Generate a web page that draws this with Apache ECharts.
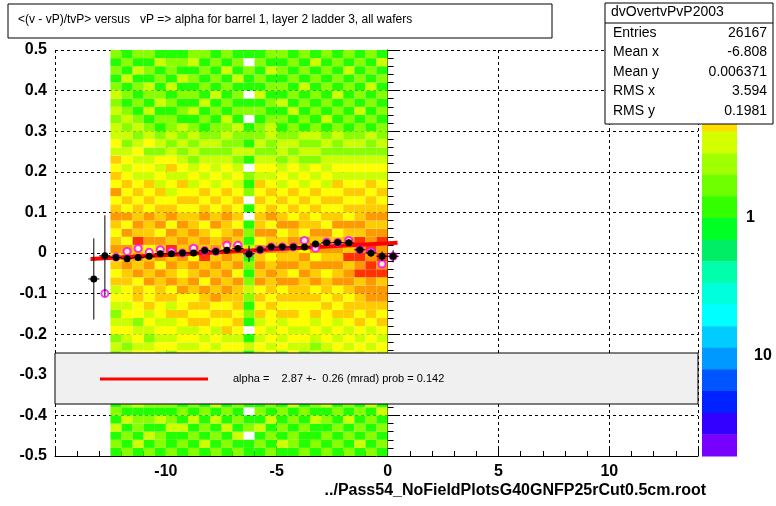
<!DOCTYPE html>
<html>
<head>
<meta charset="utf-8">
<script src="https://cdn.jsdelivr.net/npm/echarts@6/dist/echarts.min.js"></script>
<style>body{margin:0;background:#fff}#main{width:776px;height:506px}</style>
</head>
<body>
<div id="main"></div>
<script>
// profile bin centers (x), mean (black) and second profile (magenta)
var profX = [-13.25, -12.75, -12.25, -11.75, -11.25, -10.75, -10.25, -9.75, -9.25, -8.75, -8.25, -7.75, -7.25, -6.75,
  -6.25, -5.75, -5.25, -4.75, -4.25, -3.75, -3.25, -2.75, -2.25, -1.75, -1.25, -0.75, -0.25, 0.25];
var profY = [-0.064, -0.007, -0.011, -0.014, -0.011, -0.008, -0.002, -0.002, 0.000, 0.000, 0.006, 0.004, 0.007, 0.011,
  -0.002, 0.008, 0.015, 0.015, 0.015, 0.015, 0.022, 0.025, 0.026, 0.025, 0.008, 0.000, -0.008, -0.008];
var profErr = [0.1, 0.1, 0.008, 0.008, 0.008, 0.007, 0.007, 0.007, 0.007, 0.007, 0.007, 0.007, 0.008, 0.008,
  0.02, 0.008, 0.007, 0.007, 0.007, 0.007, 0.008, 0.008, 0.008, 0.008, 0.01, 0.01, 0.012, 0.015];
var prof2X = profX.slice(1);
var prof2Y = [-0.1, -0.01, 0.004, 0.011, 0.002, 0.008, 0.004, 0.000, 0.012, 0.006, 0.004, 0.019, 0.019,
  -0.002, 0.008, 0.015, 0.015, 0.015, 0.031, 0.012, 0.027, 0.026, 0.031, 0.008, 0.004, -0.027, -0.008];
// linear fit: y = p0 + p1 * x
var fitX = [-13.4, 0.45];
var fitP0 = 0.0237, fitP1 = 0.00287;
// 2D histogram: 25 columns of 0.5 from -12.5, 50 rows of 0.02 from -0.5 (bottom first); level per cell
var histX0 = -12.5, histDX = 0.5, histY0 = -0.5, histDY = 0.02;
var histCols = [
  "1213121322 1323243234 3545465456 5464545343 3232321212",
  "2121312123 2432343434 4556564646 4545434323 2321213121",
  "1312213213 3243432445 5465657565 5454343432 3212121312",
  "2131212231 2343234354 4656546556 4545343243 2131231212",
  "1221312132 3234343445 5564656465 5453434232 1213212131",
  "2113212213 2324343535 4656575646 5434354323 2212131221",
  "1213121322 3243434544 6545656565 4545343232 3121213121",
  "2121312123 2343435454 5656465655 4543432323 2131212132",
  "1312121232 3234345455 6465756546 5454343232 1213121212",
  "2121313123 2343434546 5656565465 4543433232 2121312121",
  "1213121232 3234354545 6565646556 5454343223 2312121312",
  "2131212123 2434345455 5646565645 4543432322 3121213121",
  "1102101210 1213101212 3212131210 1021201312 1021011201",
  "1213121232 3234343545 4656564655 4545343232 2121312121",
  "2121312123 2343434454 5565465646 5454343223 3212121312",
  "1312121231 2324343545 4656565465 4543432332 1213121212",
  "1221213121 2343434545 5646556564 5454343232 2131212121",
  "2112121312 1323434445 5565646455 4543432323 1212131212",
  "1211312121 2232343545 4656465654 5454342323 2121212131",
  "2121213121 2323434454 5546565645 4543433232 1312121212",
  "1212121321 3234343545 4656565465 4545343223 2121312121",
  "2121312112 2343434554 5665756564 5454343232 1212121312",
  "1312121232 3234345455 6576767565 5454343232 2131212121",
  "2121213121 2343434556 6677676656 5545343223 1212131212",
  "1212131212 3234345456 6576767656 5454343232 2121212131"
];
var levelColors = ['#ffffff', '#22ff00', '#88ff00', '#ccff00', '#ffff00', '#ffcc00', '#ff9900', '#ff3300'];
var paletteColors = ['#ff2200', '#ff5500', '#ff9900', '#ffdd00', '#d4ff00', '#a0ff00', '#70ff00', '#33ff00', '#00ff22',
  '#00ee66', '#00ffaa', '#00ffdd', '#00ffff', '#00ccff', '#0099ff', '#0055ff', '#0022ff', '#3300ff', '#7700ff'];
var statNames = ['Entries', 'Mean x', 'Mean y', 'RMS x', 'RMS y'];
var statValues = ['26167', '-6.808', '0.006371', '3.594', '0.1981'];

var cells = [];
histCols.forEach(function (s, i) {
  s.replace(/ /g, '').split('').forEach(function (c, j) {
    var lv = +c;
    if (lv > 0) cells.push([histX0 + i * histDX, histY0 + j * histDY, lv]);
  });
});

var chart = echarts.init(document.getElementById('main'));
var lab = {color: '#000', fontFamily: 'Liberation Sans, Arial', fontWeight: 'bold', fontSize: 16};

var palette = paletteColors.map(function (c, i) {
  var h = 411 / paletteColors.length;
  return {type: 'rect', shape: {x: 702, y: 45 + i * h, width: 35, height: h + 0.5}, style: {fill: c}, z: 1};
});
var stats = [];
statNames.forEach(function (n, i) {
  stats.push({type: 'text', x: 613, y: 26 + i * 19.5, style: {text: n, font: '14px Liberation Sans', fill: '#000'}, z: 11});
  stats.push({type: 'text', x: 767, y: 26 + i * 19.5, style: {text: statValues[i], font: '14px Liberation Sans', fill: '#000', align: 'right'}, z: 11});
});

var option = {
  animation: false,
  grid: {left: 55, right: 78, top: 50, bottom: 50},
  xAxis: {
    type: 'value', min: -15, max: 14, interval: 5,
    axisLine: {onZero: false, lineStyle: {color: '#000'}},
    axisTick: {inside: true, length: 10, lineStyle: {color: '#000'}},
    minorTick: {show: true, splitNumber: 5, length: 5, lineStyle: {color: '#000'}},
    splitLine: {show: true, lineStyle: {color: '#000', type: [3, 3]}},
    axisLabel: Object.assign({margin: 8, formatter: function (v) { return (v === -15 || v === 14) ? '' : String(v); }}, lab)
  },
  yAxis: {
    type: 'value', min: -0.5, max: 0.5, interval: 0.1,
    axisLine: {lineStyle: {color: '#000'}},
    axisTick: {inside: true, length: 12, lineStyle: {color: '#000'}},
    minorTick: {show: true, splitNumber: 5, length: 6, lineStyle: {color: '#000'}},
    splitLine: {show: true, lineStyle: {color: '#000', type: [3, 3]}},
    axisLabel: Object.assign({margin: 8, formatter: function (v) { var r = Math.round(v * 10) / 10; return r === 0 ? '0' : r.toFixed(1); }}, lab)
  },
  series: [
    {
      type: 'custom', data: cells, z: 1,
      renderItem: function (params, api) {
        var x = api.value(0), y = api.value(1);
        var p0 = api.coord([x, y + histDY]);
        var p1 = api.coord([x + histDX, y]);
        return {type: 'rect', shape: {x: p0[0], y: p0[1], width: p1[0] - p0[0], height: p1[1] - p0[1]},
          style: {fill: levelColors[api.value(2)]}};
      }
    },
    {
      type: 'line', data: fitX.map(function (x) { return [x, fitP0 + fitP1 * x]; }), z: 3,
      symbol: 'none', lineStyle: {color: '#ff0000', width: 4}
    },
    {
      type: 'scatter', data: prof2X.map(function (x, i) { return [x, prof2Y[i]]; }), z: 4,
      symbol: 'emptyCircle', symbolSize: 7, itemStyle: {color: '#ff00ff', borderColor: '#ff00ff', borderWidth: 1}
    },
    {
      type: 'custom', data: profX.map(function (x, i) { return [x, profY[i], profErr[i]]; }), z: 5,
      renderItem: function (params, api) {
        var x = api.value(0), y = api.value(1), e = api.value(2);
        var c = api.coord([x, y]);
        var t = api.coord([x, y + e]), b = api.coord([x, y - e]);
        var l = api.coord([x - 0.25, y]), r = api.coord([x + 0.25, y]);
        return {type: 'group', children: [
          {type: 'line', shape: {x1: c[0], y1: t[1], x2: c[0], y2: b[1]}, style: {stroke: '#000', lineWidth: 1}},
          {type: 'line', shape: {x1: l[0], y1: c[1], x2: r[0], y2: c[1]}, style: {stroke: '#000', lineWidth: 1}},
          {type: 'circle', shape: {cx: c[0], cy: c[1], r: 3.5}, style: {fill: '#000'}}
        ]};
      }
    }
  ],
  graphic: palette.concat(stats, [
    {type: 'text', left: 744, top: 76, style: {text: '10', font: 'bold 16px Liberation Sans', fill: '#000'}, z: 1},
    {type: 'text', left: 746, top: 210, style: {text: '1', font: 'bold 16px Liberation Sans', fill: '#000'}},
    {type: 'text', left: 754, top: 348, style: {text: '10', font: 'bold 16px Liberation Sans', fill: '#000'}},
    // fit legend box
    {type: 'rect', shape: {x: 55, y: 353, width: 643, height: 51}, style: {fill: '#f0f0f0', stroke: '#000', lineWidth: 1}, z: 10},
    {type: 'line', shape: {x1: 100, y1: 379, x2: 208, y2: 379}, style: {stroke: '#ff0000', lineWidth: 3}, z: 11},
    {type: 'text', left: 233, top: 373, style: {text: 'alpha =    2.87 +-  0.26 (mrad) prob = 0.142', font: '11px Liberation Sans', fill: '#000'}, z: 11},
    // title box
    {type: 'rect', shape: {x: 8, y: 4, width: 544, height: 34}, style: {fill: '#fff', stroke: '#000', lineWidth: 1}, z: 10},
    {type: 'text', left: 18, top: 14, style: {text: '<(v - vP)/tvP> versus   vP => alpha for barrel 1, layer 2 ladder 3, all wafers', font: '12px Liberation Sans', fill: '#000'}, z: 11},
    // stats box
    {type: 'rect', shape: {x: 605, y: 3, width: 168, height: 121}, style: {fill: '#fff', stroke: '#000', lineWidth: 1}, z: 10},
    {type: 'line', shape: {x1: 605, y1: 23, x2: 773, y2: 23}, style: {stroke: '#000', lineWidth: 1}, z: 11},
    {type: 'text', left: 611, top: 5, style: {text: 'dvOvertvPvP2003', font: '14px Liberation Sans', fill: '#000'}, z: 11},
    {type: 'text', right: 70, top: 483, style: {text: '../Pass54_NoFieldPlotsG40GNFP25rCut0.5cm.root', font: 'bold 16px Liberation Sans', fill: '#000'}}
  ])
};
chart.setOption(option);
</script>
</body>
</html>
